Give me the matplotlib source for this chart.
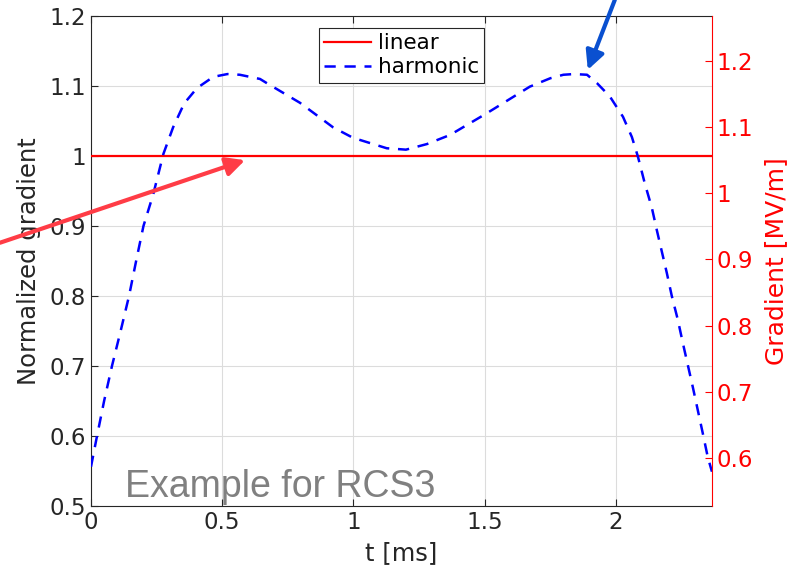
import matplotlib.pyplot as plt

# harmonic gradient (t in ms, normalized)
t_harm = [0.000, 0.023, 0.050, 0.080, 0.113, 0.145, 0.172, 0.200, 0.237, 0.276,
          0.313, 0.355, 0.404, 0.466, 0.520, 0.567, 0.644, 0.670, 0.796, 0.922,
          0.998, 1.127, 1.200, 1.280, 1.368, 1.508, 1.672, 1.750, 1.800, 1.840,
          1.890, 1.928, 1.977, 2.027, 2.061, 2.084, 2.110, 2.137, 2.156, 2.194,
          2.213, 2.236, 2.255, 2.293, 2.312, 2.331, 2.350, 2.366]
g_harm = [0.556, 0.600, 0.650, 0.700, 0.750, 0.800, 0.850, 0.900, 0.945, 1.003,
          1.041, 1.075, 1.097, 1.113, 1.117, 1.116, 1.110, 1.104, 1.076, 1.041,
          1.026, 1.011, 1.009, 1.017, 1.030, 1.061, 1.099, 1.111, 1.116, 1.117,
          1.116, 1.104, 1.085, 1.056, 1.027, 0.999, 0.961, 0.926, 0.894, 0.833,
          0.800, 0.766, 0.733, 0.670, 0.637, 0.604, 0.570, 0.549]
t_lin = [0.0, 2.366]
g_lin = [1.0, 1.0]

left_ticks = [0.5, 0.6, 0.7, 0.8, 0.9, 1.0, 1.1, 1.2]
left_labels = ['0.5', '0.6', '0.7', '0.8', '0.9', '1', '1.1', '1.2']
right_ticks = [0.6, 0.7, 0.8, 0.9, 1.0, 1.1, 1.2]
right_labels = ['0.6', '0.7', '0.8', '0.9', '1', '1.1', '1.2']
x_ticks = [0, 0.5, 1, 1.5, 2]
x_labels = ['0', '0.5', '1', '1.5', '2']
scale = 1.056  # MV/m per unit of normalized gradient

dark = '#262626'
plt.rcParams['font.family'] = 'DejaVu Sans'
plt.rcParams['font.size'] = 17

fig = plt.figure(figsize=(7.96, 5.78), dpi=100)
ax = fig.add_axes([0.1143, 0.1246, 0.7801, 0.8478])

ax.plot(t_lin, g_lin, color='red', lw=1.6, label='linear', zorder=3)
ax.plot(t_harm, g_harm, color='blue', lw=1.8, dashes=(4.5, 3.5), label='harmonic', zorder=3)

ax.set_xlim(0, 2.366)
ax.set_ylim(0.5, 1.2)
ax.set_xticks(x_ticks, x_labels)
ax.set_yticks(left_ticks, left_labels)
ax.grid(True, color='#dcdcdc', lw=0.8)
ax.tick_params(direction='in', top=True, right=False, colors=dark, length=5, width=0.8,
               labelsize=16.5)
for s in ['left', 'bottom', 'top']:
    ax.spines[s].set_color(dark)
ax.spines['right'].set_visible(False)
ax.set_xlabel('t [ms]', color=dark, fontsize=17.5, labelpad=5)
ax.set_ylabel('Normalized gradient', color=dark, fontsize=17.5, labelpad=6)

leg = ax.legend(loc='upper center', bbox_to_anchor=(0.5, 0.976), fancybox=False,
                framealpha=1, edgecolor=dark, handlelength=2.2, handletextpad=0.3,
                borderpad=0.25, labelspacing=0.2, borderaxespad=0, fontsize=15.5)
leg.get_frame().set_linewidth(0.8)

ax2 = ax.twinx()
ax2.set_ylim(0.5 * scale, 1.2 * scale)
ax2.set_yticks(right_ticks, right_labels)
ax2.tick_params(direction='in', colors='red', length=5, width=0.8, labelsize=16.5)
for s in ['left', 'bottom', 'top']:
    ax2.spines[s].set_visible(False)
ax2.spines['right'].set_color('red')
ax2.set_ylabel('Gradient [MV/m]', color='red', fontsize=18, labelpad=8)

ax.text(0.13, 0.513, 'Example for RCS3', color='#808080', fontsize=27,
        family='Liberation Sans', va='baseline', zorder=5)

ax.annotate('', xy=(0.587, 0.994), xytext=(-0.347, 0.876), annotation_clip=False,
            arrowprops=dict(arrowstyle='-|>', color='#ff3c46', lw=3, mutation_scale=28,
                            shrinkA=0, shrinkB=0), zorder=6)
ax.annotate('', xy=(1.893, 1.123), xytext=(1.996, 1.223), annotation_clip=False,
            arrowprops=dict(arrowstyle='-|>', color='#0a50d0', lw=3, mutation_scale=28,
                            shrinkA=0, shrinkB=0), zorder=6)

fig.savefig('out.png', dpi=100)
